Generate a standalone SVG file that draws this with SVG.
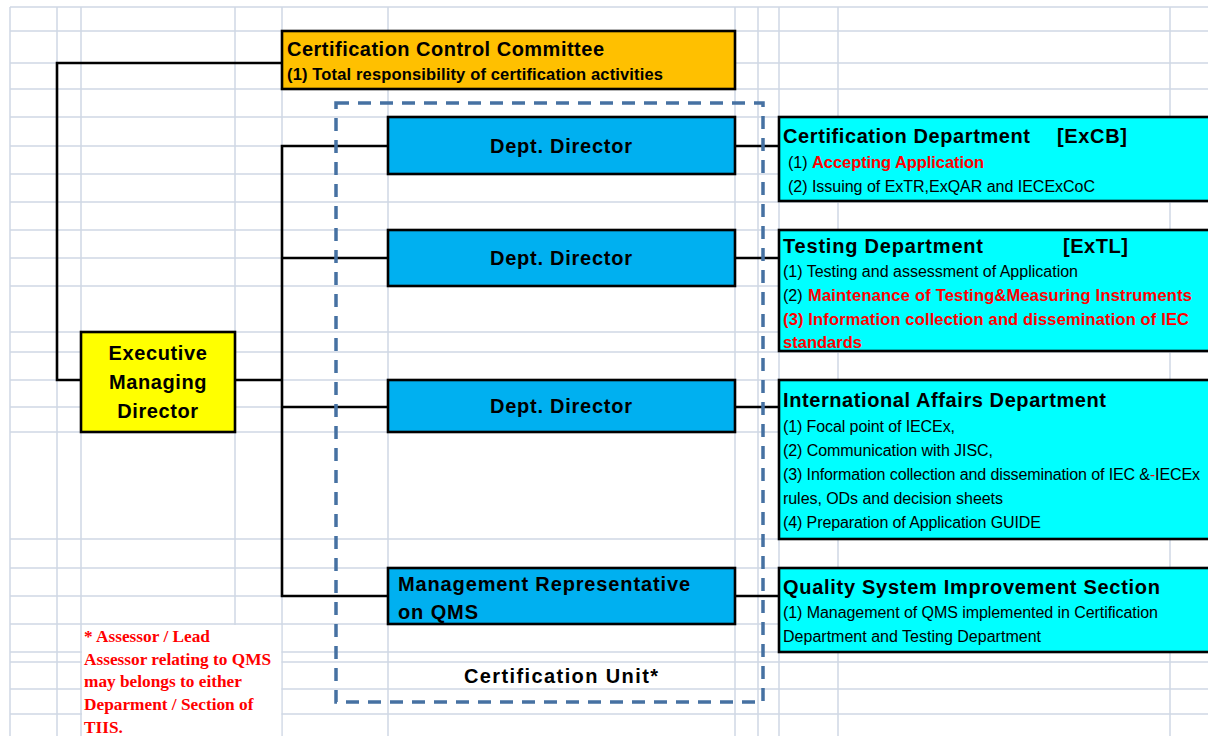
<svg xmlns="http://www.w3.org/2000/svg" width="1208" height="736" viewBox="0 0 1208 736">
<style>
.grid{stroke:#d0d7e5;stroke-width:1.5;fill:none}
.box{stroke:#000;stroke-width:2.6}
.conn{stroke:#000;stroke-width:2.6;fill:none}
.t{font-family:"Liberation Sans",Arial,sans-serif;fill:#000}
.h{font-size:20px;font-weight:bold}
.b{font-size:16.5px;font-weight:bold}
.n{font-size:16px}
.red{fill:#ff0000}
.note{font-family:"Liberation Serif","Times New Roman",serif;font-size:17.3px;font-weight:bold;fill:#ff0000}
</style>
<rect x="0" y="0" width="1208" height="736" fill="#fff"/>
<g id="grid">
<path class="grid" d="M10,7V736M57,7V736M81,7V736M235,7V736M282,7V736M388,7V736M735,7V736M758,7V736M779,7V736M838,7V736M1170,7V736"/>
<path class="grid" d="M10,7H1208M10,31H1208M10,63H1208M10,89H1208M10,117H1208M10,146H1208M10,174H1208M10,202H1208M10,230H1208M10,258H1208M10,286H1208M10,332H1208M10,352H1208M10,380H1208M10,407H1208M10,432H1208M10,539H1208M10,568H1208M10,596H1208M10,624H1208M10,652H1208M10,662H1208M10,689H1208M10,714H1208"/>
<rect x="82" y="625" width="199.2" height="111" fill="#fff"/>
</g>
<g id="connectors">
<path class="conn" d="M282,63H57V380H81"/>
<path class="conn" d="M235,380H282"/>
<path class="conn" d="M388,146H282V596H388M282,258H388M282,407H388"/>
<path class="conn" d="M735,146H779M735,258H779M735,407H779M735,596H779"/>
</g>
<g id="certification-unit">
<rect x="336" y="103" width="427" height="599" fill="none" stroke="#4671a2" stroke-width="3.5" stroke-dasharray="13 9"/>
<text class="t h" x="464" y="683" textLength="194" lengthAdjust="spacing">Certification Unit*</text>
</g>
<g id="control-committee">
<rect class="box" x="282" y="31" width="453" height="58" fill="#ffc000"/>
<text class="t h" x="287" y="56" textLength="317" lengthAdjust="spacing">Certification Control Committee</text>
<text class="t b" x="287" y="80" textLength="376" lengthAdjust="spacing">(1) Total responsibility of certification activities</text>
</g>
<g id="executive">
<rect class="box" x="81" y="332" width="154" height="100" fill="#ffff00"/>
<text class="t h" x="158" y="360" text-anchor="middle" letter-spacing="0.6">Executive</text>
<text class="t h" x="158" y="389" text-anchor="middle" letter-spacing="0.6">Managing</text>
<text class="t h" x="158" y="418" text-anchor="middle" letter-spacing="0.6">Director</text>
</g>
<g id="director1">
<rect class="box" x="388" y="117" width="347" height="57" fill="#00b0f0"/>
<text class="t h" x="490" y="153" textLength="142" lengthAdjust="spacing">Dept. Director</text>
</g>
<g id="director2">
<rect class="box" x="388" y="230" width="347" height="56" fill="#00b0f0"/>
<text class="t h" x="490" y="265" textLength="142" lengthAdjust="spacing">Dept. Director</text>
</g>
<g id="director3">
<rect class="box" x="388" y="380" width="347" height="52" fill="#00b0f0"/>
<text class="t h" x="490" y="413" textLength="142" lengthAdjust="spacing">Dept. Director</text>
</g>
<g id="mgmt-rep">
<rect class="box" x="388" y="568" width="347" height="56" fill="#00b0f0"/>
<text class="t h" x="398" y="591" textLength="292" lengthAdjust="spacing">Management Representative</text>
<text class="t h" x="398" y="619" textLength="80" lengthAdjust="spacing">on QMS</text>
</g>
<g id="cert-dept">
<rect class="box" x="779" y="117" width="440" height="84" fill="#00ffff"/>
<text class="t h" x="783" y="143" textLength="247" lengthAdjust="spacing">Certification Department</text>
<text class="t h" x="1057" y="143" textLength="70" lengthAdjust="spacing">[ExCB]</text>
<text class="t n" x="788" y="168">(1)</text>
<text class="t b red" x="812" y="168" textLength="172" lengthAdjust="spacing">Accepting Application</text>
<text class="t n" x="788" y="192" textLength="307" lengthAdjust="spacing">(2) Issuing of ExTR,ExQAR and IECExCoC</text>
</g>
<g id="testing-dept">
<rect class="box" x="779" y="230" width="440" height="121" fill="#00ffff"/>
<text class="t h" x="783" y="253" textLength="200" lengthAdjust="spacing">Testing Department</text>
<text class="t h" x="1063" y="253" textLength="65" lengthAdjust="spacing">[ExTL]</text>
<text class="t n" x="783" y="277" textLength="295" lengthAdjust="spacing">(1) Testing and assessment of Application</text>
<text class="t n" x="783" y="301">(2)</text>
<text class="t b red" x="808" y="301" textLength="384" lengthAdjust="spacing">Maintenance of Testing&amp;Measuring Instruments</text>
<text class="t b red" x="783" y="325" textLength="406" lengthAdjust="spacing">(3) Information collection and dissemination of IEC</text>
<text class="t b red" x="783" y="348" textLength="79" lengthAdjust="spacing">standards</text>
</g>
<g id="intl-dept">
<rect class="box" x="779" y="380" width="440" height="159" fill="#00ffff"/>
<text class="t h" x="783" y="407" textLength="323" lengthAdjust="spacing">International Affairs Department</text>
<text class="t n" x="783" y="432" textLength="172" lengthAdjust="spacing">(1) Focal point of IECEx,</text>
<text class="t n" x="783" y="456" textLength="210" lengthAdjust="spacing">(2) Communication with JISC,</text>
<text class="t n" x="783" y="480" textLength="417" lengthAdjust="spacing">(3) Information collection and dissemination of IEC &amp;<tspan fill="#ff0000">-</tspan>IECEx</text>
<text class="t n" x="783" y="504" textLength="220" lengthAdjust="spacing">rules, ODs and decision sheets</text>
<text class="t n" x="783" y="528" textLength="258" lengthAdjust="spacing">(4) Preparation of Application GUIDE</text>
</g>
<g id="quality-section">
<rect class="box" x="779" y="568" width="440" height="84" fill="#00ffff"/>
<text class="t h" x="783" y="594" textLength="377" lengthAdjust="spacing">Quality System Improvement Section</text>
<text class="t n" x="783" y="618" textLength="375" lengthAdjust="spacing">(1) Management of QMS implemented in Certification</text>
<text class="t n" x="783" y="642" textLength="258" lengthAdjust="spacing">Department and Testing Department</text>
</g>
<g id="note">
<text class="note" x="84" y="642">* Assessor / Lead</text>
<text class="note" x="84" y="665">Assessor relating to QMS</text>
<text class="note" x="84" y="687">may belongs to either</text>
<text class="note" x="84" y="710">Deparment / Section of</text>
<text class="note" x="84" y="733">TIIS.</text>
</g>
</svg>
